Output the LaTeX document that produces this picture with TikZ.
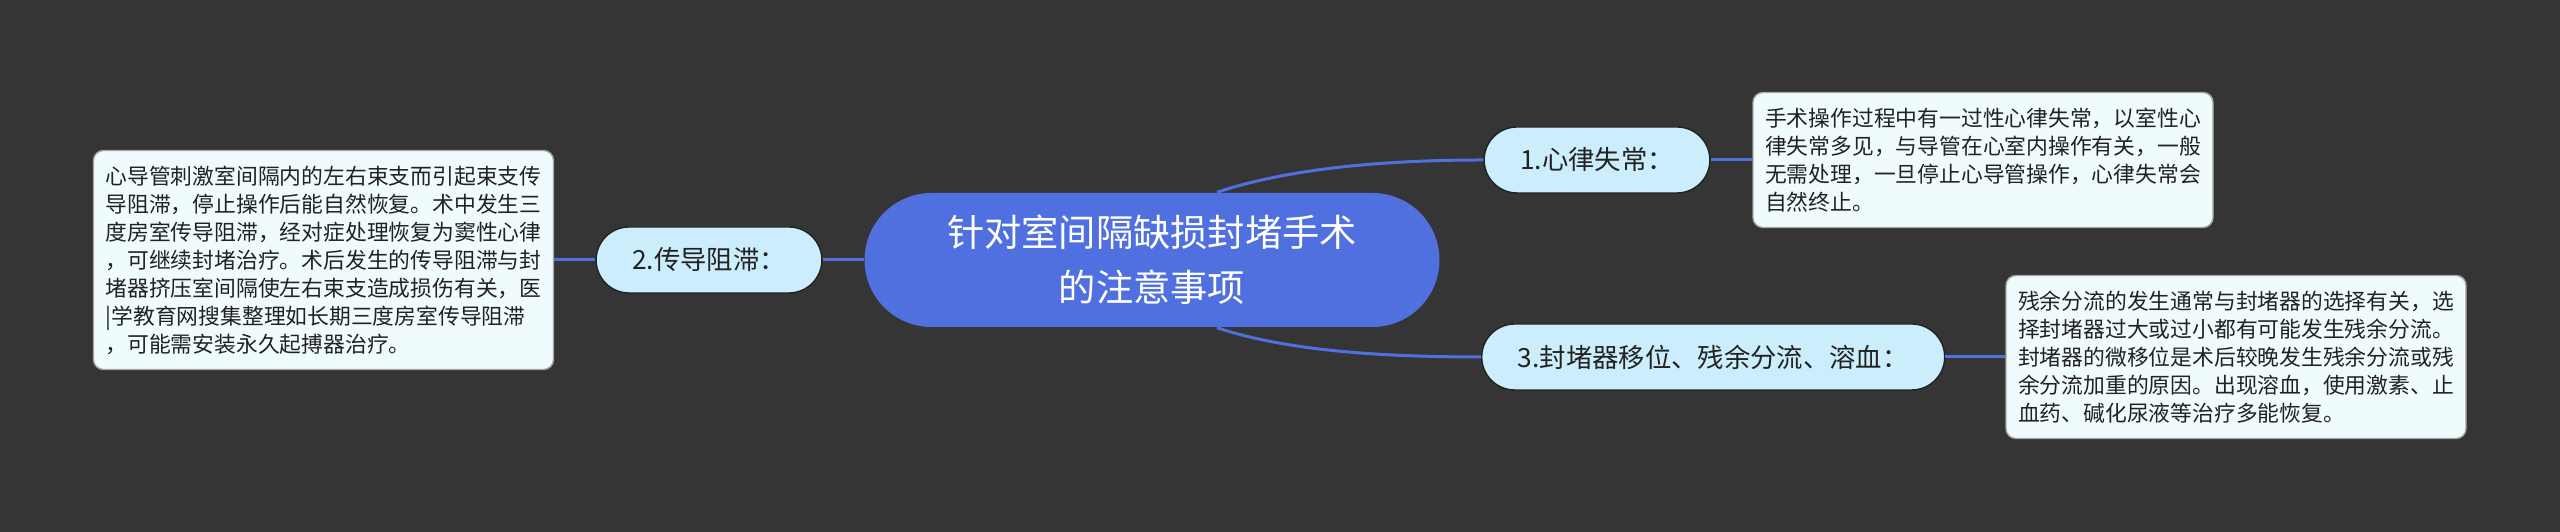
\documentclass[tikz,border=0pt]{standalone}
\usepackage{fontspec}
\setmainfont{Noto Sans CJK SC}
\usepackage{tikz}
\usetikzlibrary{positioning}

\definecolor{bgdark}{RGB}{54,53,53}
\definecolor{rootblue}{RGB}{79,112,222}
\definecolor{branchfill}{RGB}{204,238,252}
\definecolor{leaffill}{RGB}{240,251,254}
\definecolor{inkdark}{RGB}{34,34,34}

\begin{document}
\begin{tikzpicture}[
  root/.style={fill=rootblue,text=white,rounded corners=0.67cm,minimum width=5.75cm,minimum height=1.34cm,align=center,font=\fontsize{10.6pt}{15.7pt}\selectfont},
  branch/.style={fill=branchfill,draw=inkdark,line width=0.4pt,text=inkdark,rounded corners=0.33cm,minimum height=0.66cm,inner xsep=0.36cm,font=\fontsize{7.5pt}{9pt}\selectfont},
  leaf/.style={fill=leaffill,draw=gray!70,line width=0.4pt,text=inkdark,rounded corners=0.1cm,minimum width=4.6cm,align=left,font=\fontsize{6.2pt}{7.97pt}\selectfont},
  link/.style={draw=rootblue,line width=0.85pt}
]
\fill[bgdark] (0,0) rectangle (25.6,5.32);
\useasboundingbox (0,0) rectangle (25.6,5.32);

% Central topic
\node[root] (topic) at (11.52,2.72) {针对室间隔缺损封堵手术\\的注意事项};

% Branches
\node[branch] (arrhythmia) at (15.97,3.72) {1.心律失常：};
\node[branch] (block) at (7.09,2.72) {2.传导阻滞：};
\node[branch,anchor=west] (shunt) at (14.81,1.75) {3.封堵器移位、残余分流、溶血：};

% Details
\node[leaf,minimum height=1.35cm] (arrhythmiatext) at (19.83,3.72) {手术操作过程中有一过性心律失常，以室性心\\律失常多见，与导管在心室内操作有关，一般\\无需处理，一旦停止心导管操作，心律失常会\\自然终止。};
\node[leaf,minimum height=2.19cm] (blocktext) at (3.235,2.72) {心导管刺激室间隔内的左右束支而引起束支传\\导阻滞，停止操作后能自然恢复。术中发生三\\度房室传导阻滞，经对症处理恢复为窦性心律\\，可继续封堵治疗。术后发生的传导阻滞与封\\堵器挤压室间隔使左右束支造成损伤有关，医\\|学教育网搜集整理如长期三度房室传导阻滞\\，可能需安装永久起搏器治疗。};
\node[leaf,minimum height=1.63cm] (shunttext) at (22.36,1.75) {残余分流的发生通常与封堵器的选择有关，选\\择封堵器过大或过小都有可能发生残余分流。\\封堵器的微移位是术后较晚发生残余分流或残\\余分流加重的原因。出现溶血，使用激素、止\\血药、碱化尿液等治疗多能恢复。};

% Links
\draw[link] ([xshift=0.65cm]topic.north) .. controls +(0.6,0.2) and +(-1.2,0) .. (arrhythmia.west);
\draw[link] (topic.west) -- (block.east);
\draw[link] ([xshift=0.65cm]topic.south) .. controls +(0.6,-0.2) and +(-1.2,0) .. (shunt.west);
\draw[link] (arrhythmia.east) -- (arrhythmiatext.west);
\draw[link] (block.west) -- (blocktext.east);
\draw[link] (shunt.east) -- (shunttext.west);
\end{tikzpicture}
\end{document}
